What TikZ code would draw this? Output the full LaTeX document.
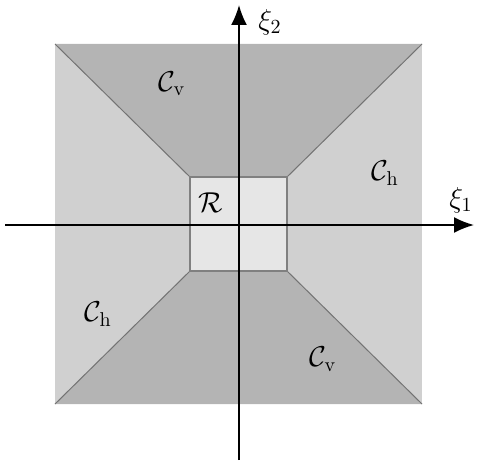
\documentclass[tikz,border=0pt]{standalone}
\usetikzlibrary{arrows.meta}
\begin{document}
\begin{tikzpicture}[x=0.5pt,y=-0.5pt,
  lbl/.style={font=\fontsize{14}{16}\selectfont, inner sep=0pt},
  axis/.style={line width=0.9pt, -{Latex[length=10pt,width=8pt]}},
  edge/.style={draw=black!55, line width=0.5pt}]
\definecolor{lightR}{HTML}{E6E6E6}
\definecolor{midH}{HTML}{D0D0D0}
\definecolor{darkV}{HTML}{B4B4B4}
\useasboundingbox (0,0) rectangle (480,465);
% corners
\coordinate (O1) at (55,44);  \coordinate (O2) at (422,44);
\coordinate (O3) at (422,404); \coordinate (O4) at (55,404);
\coordinate (I1) at (190,177); \coordinate (I2) at (287,177);
\coordinate (I3) at (287,271); \coordinate (I4) at (190,271);
% regions
\fill[midH] (O1) rectangle (O3);
\fill[darkV] (O1) -- (O2) -- (I2) -- (I1) -- cycle;
\fill[darkV] (O4) -- (O3) -- (I3) -- (I4) -- cycle;
\fill[lightR] (I1) rectangle (I3);
\draw[edge] (O1) -- (I1) (O2) -- (I2) (O3) -- (I3) (O4) -- (I4);
\draw[draw=black!50, line width=0.9pt] (I1) rectangle (I3);
% axes
\coordinate (xs) at (5,225); \coordinate (xe) at (474,225);
\coordinate (ys) at (239,460); \coordinate (ye) at (239,5);
\draw[axis] (xs) -- (xe);
\draw[axis] (ys) -- (ye);
% labels
\node[lbl] (xi1) at (461,200) {$\xi_1$};
\node[lbl] (xi2) at (270,22) {$\xi_2$};
\node[lbl] (cvt) at (172,84) {$\mathcal{C}_{\mathrm{v}}$};
\node[lbl] (cvb) at (323,359) {$\mathcal{C}_{\mathrm{v}}$};
\node[lbl] (chr) at (385,173) {$\mathcal{C}_{\mathrm{h}}$};
\node[lbl] (chl) at (98,314) {$\mathcal{C}_{\mathrm{h}}$};
\node[lbl] (reg) at (211,203) {$\mathcal{R}$};
\end{tikzpicture}
\end{document}
